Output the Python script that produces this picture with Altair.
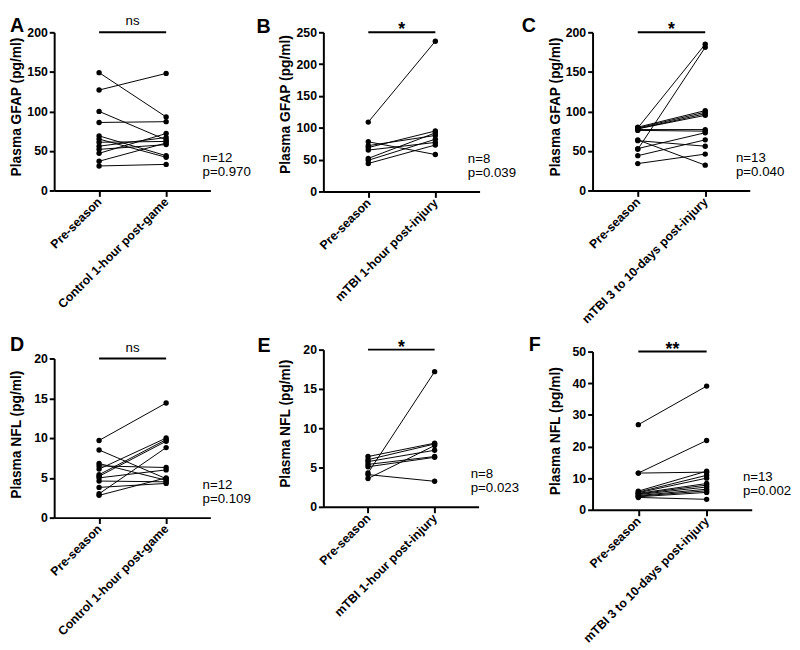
import altair as alt
import pandas as pd

FONT = "Liberation Sans"

# ---- data (pre-season value, follow-up value) per athlete ----
pre_A = [149, 127, 100, 86, 69, 65, 61, 56, 52, 47, 37, 31]
post_A = [93, 148, 64, 87, 44, 42, 62, 67, 58, 72, 60, 33]

pre_B = [109, 78, 72, 69, 65, 52, 49, 44]
post_B = [236, 58, 88, 95, 77, 92, 82, 73]

pre_C = [79, 52, 80, 79, 78, 78, 77, 76, 64, 63, 53, 44, 34]
post_C = [185, 181, 101, 99, 97, 95, 77, 75, 32, 56, 73, 64, 46]

pre_D = [9.7, 8.5, 6.8, 6.5, 6.1, 5.4, 5.2, 5.0, 4.6, 3.8, 3.0, 2.8]
post_D = [14.4, 4.9, 4.7, 6.3, 10.0, 9.8, 9.6, 6.0, 4.5, 4.3, 8.8, 5.0]

pre_E = [6.4, 6.0, 5.75, 5.4, 5.1, 4.3, 4.1, 3.6]
post_E = [8.1, 8.0, 7.2, 6.4, 6.3, 17.2, 3.25, 7.8]

pre_F = [26.9, 11.6, 11.6, 5.9, 5.6, 5.4, 5.2, 5.0, 4.8, 4.5, 4.3, 4.1, 3.9]
post_F = [39.1, 21.9, 11.9, 12.2, 10.9, 10.0, 8.3, 7.8, 7.2, 6.5, 6.0, 5.5, 3.3]

letters = ["A", "B", "C", "D", "E", "F"]
y_titles = ["Plasma GFAP (pg/ml)"] * 3 + ["Plasma NFL (pg/ml)"] * 3
y_max = [200, 250, 200, 20, 20, 50]
y_step = [50, 50, 50, 5, 5, 10]
group_labels = ["Pre-season"]
post_labels = ["Control 1-hour post-game", "mTBI 1-hour post-injury", "mTBI 3 to 10-days post-injury"] * 2
sig_labels = ["ns", "*", "*", "ns", "*", "**"]
n_labels = ["n=12", "n=8", "n=13", "n=12", "n=8", "n=13"]
p_labels = ["p=0.970", "p=0.039", "p=0.040", "p=0.109", "p=0.023", "p=0.002"]
pres = [pre_A, pre_B, pre_C, pre_D, pre_E, pre_F]
posts = [post_A, post_B, post_C, post_D, post_E, post_F]

# ---- layout (plot sizes and the cell box each panel occupies, relative to its plot) ----
sizes = [(159, 161), (159, 162), (160, 161), (159, 162), (158, 160), (162, 161)]
boxes = [(-46, 203, -17, 305), (-69, 198, -16, 306), (-73, 195, -17, 305),
         (-46, 203, -25, 287), (-68, 199, -15, 297), (-66, 202, -18, 294)]
np_x = [151, 147, 146, 151, 150, 153]
title_shift = [-5, -8, -5, -4, -5, 0]


def panel(i):
    W, H = sizes[i]
    bx0, bx1, by0, by1 = boxes[i]
    rows = []
    for k, (a, b) in enumerate(zip(pres[i], posts[i])):
        rows.append({"pair": k, "x": 0, "v": a})
        rows.append({"pair": k, "x": 1, "v": b})
    df = pd.DataFrame(rows)

    xs = alt.Scale(domain=[-0.67, 1.66], nice=False, zero=False)
    ys = alt.Scale(domain=[0, y_max[i]], nice=False)
    xax = alt.Axis(
        values=[0, 1],
        labelExpr=f"datum.value == 0 ? '{group_labels[0]}' : '{post_labels[i]}'",
        title=None, labelAngle=-45, labelAlign="right", labelBaseline="middle",
        labelPadding=3, labelLimit=400, tickSize=6, grid=False, labelOverlap=False,
    )
    yax = alt.Axis(
        values=list(range(0, y_max[i] + 1, y_step[i])),
        title=y_titles[i], titleX=-31, titleY=H / 2 + title_shift[i],
        titleBaseline="bottom", titleAlign="center",
        tickSize=5, labelPadding=2, grid=False, labelOverlap=False,
    )
    xenc = alt.X("x:Q", scale=xs, axis=xax)
    yenc = alt.Y("v:Q", scale=ys, axis=yax)
    base = alt.Chart(df).encode(x=xenc, y=yenc)
    lines = base.mark_line(color="black", strokeWidth=1).encode(detail="pair:N")
    pts = base.mark_point(filled=True, color="black", size=30, opacity=1)

    sig_df = pd.DataFrame({"x": [0], "x2": [1], "v": [y_max[i]]})
    rule = alt.Chart(sig_df).mark_rule(color="black", strokeWidth=2).encode(
        x=xenc, x2="x2:Q", y=yenc)
    star = sig_labels[i] != "ns"
    sig_txt_df = pd.DataFrame({"x": [0.5], "v": [y_max[i]], "t": [sig_labels[i]]})
    sig_txt = alt.Chart(sig_txt_df).mark_text(
        font=FONT, fontSize=18 if star else 13.5, fontWeight="bold" if star else "normal",
        baseline="alphabetic", dy=3 if star else -7, color="black",
    ).encode(x=xenc, y=yenc, text="t:N")

    one = pd.DataFrame({"k": [0]})
    box = alt.Chart(one).mark_rect(fill="white", fillOpacity=0, strokeWidth=0).encode(
        x=alt.value(bx0), x2=alt.value(bx1), y=alt.value(by0), y2=alt.value(by1))
    letter = alt.Chart(one).mark_text(
        text=letters[i], font=FONT, fontSize=20, fontWeight="bold",
        align="left", baseline="top", color="black",
    ).encode(x=alt.value(bx0 + 1), y=alt.value(by0 + 1))
    n_txt = alt.Chart(one).mark_text(
        text=n_labels[i], font=FONT, fontSize=13.5, align="left", baseline="middle", color="black",
    ).encode(x=alt.value(np_x[i]), y=alt.value(H - 33))
    p_txt = alt.Chart(one).mark_text(
        text=p_labels[i], font=FONT, fontSize=13.5, align="left", baseline="middle", color="black",
    ).encode(x=alt.value(np_x[i]), y=alt.value(H - 19))

    return alt.layer(box, lines, pts, rule, sig_txt, letter, n_txt, p_txt).properties(
        width=W, height=H)


p = [panel(i) for i in range(6)]
col1 = alt.vconcat(p[0], p[3], spacing=0)
col2 = alt.vconcat(p[1], p[4], spacing=0)
col3 = alt.vconcat(p[2], p[5], spacing=0)

chart = alt.hconcat(col1, col2, col3, spacing=0).properties(
    padding=0, background="white"
).configure_view(stroke="transparent").configure_axis(
    labelFont=FONT, titleFont=FONT, labelFontSize=12.5, labelFontWeight="bold",
    titleFontSize=14, titleFontWeight="bold", labelColor="black", titleColor="black",
    domainColor="black", tickColor="black", domainWidth=2, tickWidth=2,
)

chart.save("out.html", embed_options={"renderer": "svg", "actions": False})
